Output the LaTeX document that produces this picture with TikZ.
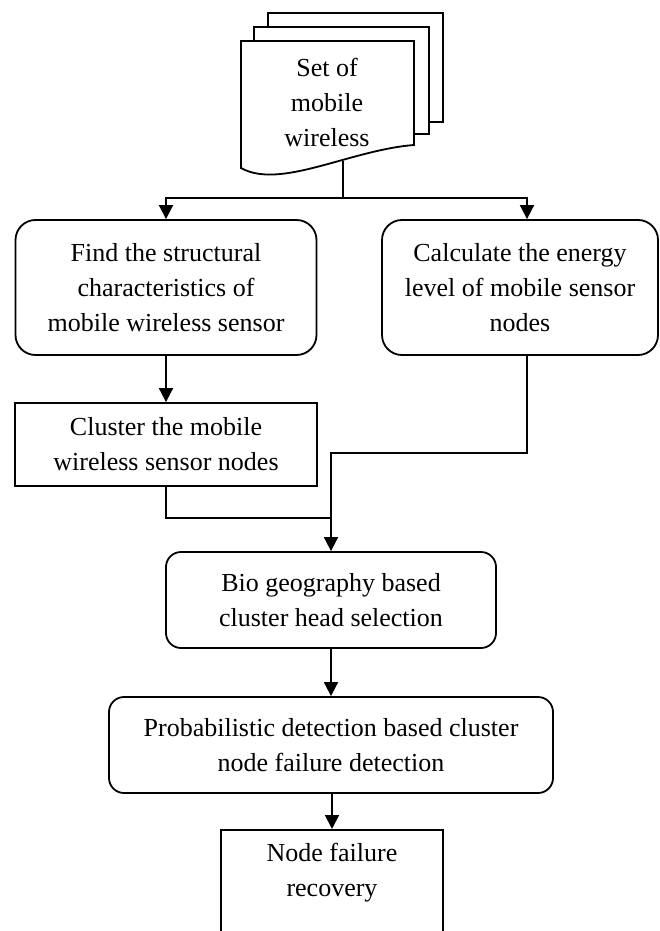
\documentclass[tikz,border=0pt]{standalone}
\usepackage{fontspec}
\setmainfont{Liberation Serif}
\usetikzlibrary{arrows.meta}
\begin{document}
\begin{tikzpicture}[x=1pt,y=-1pt,
  line width=1.8pt,
  txt/.style={font=\fontsize{26}{35}\selectfont, align=center, inner sep=0pt},
  rbox/.style={txt, draw, rounded corners=20pt},
  sbox/.style={txt, draw, rounded corners=15pt},
  pbox/.style={txt, draw},
  arr/.style={-{Triangle[width=14pt,length=14pt]}}
]
\useasboundingbox (0,0) rectangle (660,931);
% multi-document
\filldraw[fill=white] (268,13) rectangle (443,122);
\filldraw[fill=white] (254,27) rectangle (429,134);
\filldraw[fill=white] (241,41) -- (414,41) -- (414,145)
   .. controls (350,150) and (280,190) .. (241,168) -- cycle;
\node[txt] (doc) at (327,102) {Set of\\mobile\\wireless};
\coordinate (docb) at (343,161);
% boxes
\node[rbox, minimum width=301pt, minimum height=135pt] (lbox) at (166,287.5)
  {Find the structural\\characteristics of\\mobile wireless sensor};
\node[rbox, minimum width=276pt, minimum height=135pt] (rbx) at (520,287.5)
  {Calculate the energy\\level of mobile sensor\\nodes};
\node[pbox, minimum width=302pt, minimum height=83pt] (cl) at (166,444.5)
  {Cluster the mobile\\wireless sensor nodes};
\node[sbox, minimum width=330pt, minimum height=96pt] (bio) at (331,600)
  {Bio geography based\\cluster head selection};
\node[sbox, minimum width=444pt, minimum height=96pt] (prob) at (331,745)
  {Probabilistic detection based cluster\\node failure detection};
\node[draw, minimum width=222pt, minimum height=140pt, anchor=north, inner sep=0pt] (nfr) at (332,829) {};
\node[txt, anchor=north] (nfrt) at (332,842) {Node failure\\recovery};
% connectors
\coordinate (sp) at (343,198);
\coordinate (rx) at (527,0);
\coordinate (m) at (331,453);
\coordinate (j) at (331,518);
\draw (docb) -- (sp);
\draw[arr] (sp) -| (lbox.north);
\draw[arr] (sp) -| (rbx.north -| rx);
\draw[arr] (lbox.south) -- (cl.north);
\draw (cl.south) |- (j);
\draw[arr] (rbx.south -| rx) |- (m) -- (bio.north);
\draw[arr] (bio.south) -- (prob.north);
\draw[arr] (prob.south -| nfr.north) -- (nfr.north);
\end{tikzpicture}
\end{document}
